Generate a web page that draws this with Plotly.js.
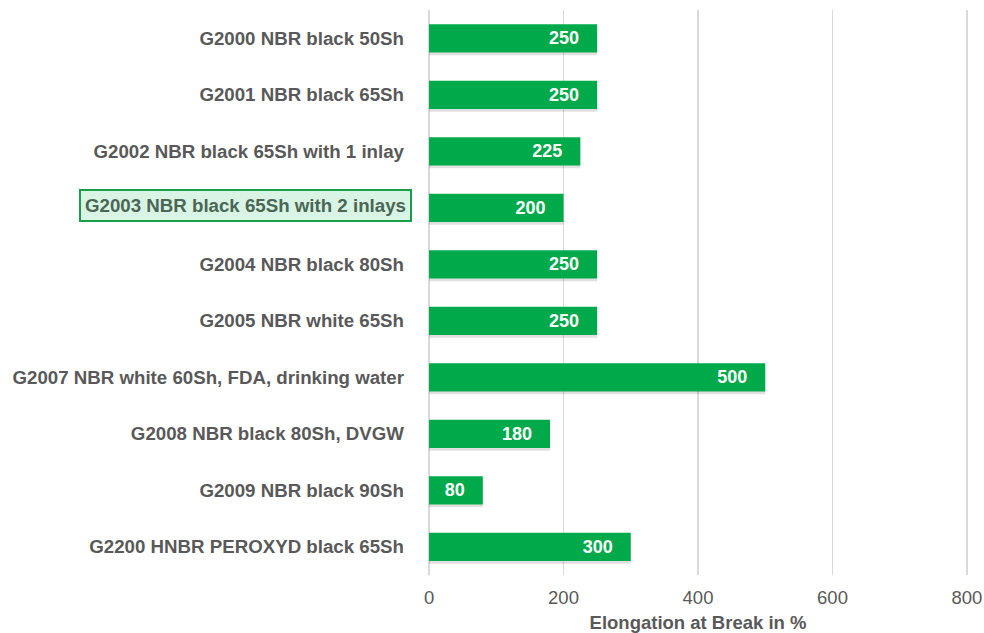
<!DOCTYPE html>
<html><head><meta charset="utf-8">
<script src="https://cdn.plot.ly/plotly-3.0.1.min.js"></script>
<style>html,body{margin:0;padding:0;background:#fff}#chart{width:984px;height:633px}</style>
</head><body><div id="chart"></div>
<script>
const categories = [
  "G2000 NBR black 50Sh",
  "G2001 NBR black 65Sh",
  "G2002 NBR black 65Sh with 1 inlay",
  "G2003 NBR black 65Sh with 2 inlays",
  "G2004 NBR black 80Sh",
  "G2005 NBR white 65Sh",
  "G2007 NBR white 60Sh, FDA, drinking water",
  "G2008 NBR black 80Sh, DVGW",
  "G2009 NBR black 90Sh",
  "G2200 HNBR PEROXYD black 65Sh"
];
const elongation = [250, 250, 225, 200, 250, 250, 500, 180, 80, 300];
const highlighted = "G2003 NBR black 65Sh with 2 inlays";
const xTicks = [0, 200, 400, 600, 800];

const FONT = "Liberation Sans";
const tickText = categories.map(c => c === highlighted ? "" : c);
const pad = "\u00a0\u00a0\u00a0";

const shadow = {
  type: "bar", orientation: "h",
  y: categories, x: elongation,
  width: 0.5, offset: -0.2,
  marker: {color: "rgba(0,0,0,0.12)", line: {width: 0}},
  hoverinfo: "none"
};

const trace = {
  type: "bar",
  orientation: "h",
  y: categories,
  x: elongation,
  width: 0.5, offset: -0.25,
  marker: {color: "#00aa4a", line: {width: 0}},
  text: elongation.map(v => String(v) + pad),
  textposition: "inside",
  insidetextanchor: "end",
  textfont: {family: FONT, size: 18, color: "#ffffff", weight: "bold"},
  hoverinfo: "none"
};

const layout = {
  width: 984, height: 633,
  margin: {l: 427, r: 15, t: 10, b: 58},
  paper_bgcolor: "#ffffff", plot_bgcolor: "#ffffff",
  showlegend: false,
  barmode: "overlay",
  font: {family: FONT},
  xaxis: {
    range: [-3, 803],
    tickvals: xTicks,
    ticktext: xTicks.map(String),
    showgrid: true, gridcolor: "#d9d9d9", gridwidth: 1.5,
    zeroline: false, showline: false,
    ticks: "", ticklen: 0,
    tickfont: {family: FONT, size: 18.5, color: "#595959"},
    ticklabelstandoff: 9,
    title: {text: "<b>Elongation at Break in %</b>", font: {family: FONT, size: 18.5, color: "#595959"}, standoff: 9},
    fixedrange: true
  },
  yaxis: {
    autorange: "reversed",
    type: "category",
    tickvals: categories,
    ticktext: tickText,
    showgrid: false, zeroline: false, showline: false,
    ticks: "", ticklen: 0,
    tickfont: {family: FONT, size: 18.7, color: "#595959", weight: "bold"},
    ticklabelstandoff: 22,
    fixedrange: true
  },
  annotations: [{
    xref: "paper", yref: "y",
    x: 0, y: highlighted,
    xanchor: "right", yanchor: "middle",
    xshift: -15, yshift: 2,
    text: "<b>" + highlighted + "</b>",
    showarrow: false,
    font: {family: FONT, size: 18.7, color: "#4a6654"},
    bgcolor: "#d9f3e4",
    bordercolor: "#1a9e4a",
    borderwidth: 2,
    borderpad: 4
  }]
};

Plotly.newPlot("chart", [shadow, trace], layout, {displayModeBar: false, staticPlot: true});
</script></body></html>
